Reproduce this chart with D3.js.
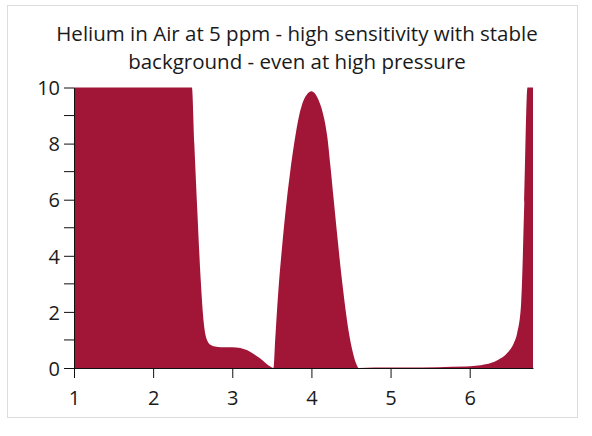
<!DOCTYPE html>
<html>
<head>
<meta charset="utf-8">
<script src="https://cdn.jsdelivr.net/npm/d3@7"></script>
<style>
  body { margin: 0; background: #fff; }
  svg { display: block; font-family: "Open Sans", sans-serif; }
</style>
</head>
<body>
<div id="chart"></div>
<script>
const titleLines = ["Helium in Air at 5 ppm - high sensitivity with stable", "background - even at high pressure"];

// x positions and signal (values above 10 are cut at the top)
const xValues = [1.0, 2.49, 2.52, 2.56, 2.60, 2.64, 2.68, 2.73, 2.80, 2.90, 3.0, 3.1, 3.19, 3.27, 3.35, 3.42, 3.48, 3.52,
  3.542, 3.564, 3.589, 3.619, 3.652, 3.689, 3.732, 3.782, 3.845, 3.895, 3.95, 4.0,
  4.04, 4.08, 4.12, 4.16, 4.20, 4.24, 4.28, 4.32, 4.36, 4.40, 4.44, 4.48, 4.52, 4.56, 4.60,
  4.8, 5.2, 5.6, 5.95, 6.2, 6.35, 6.48, 6.56, 6.60, 6.65, 6.69, 6.73, 6.8];
const yValues = [10, 10, 8.0, 5.5, 3.2, 1.6, 1.0, 0.82, 0.76, 0.74, 0.74, 0.71, 0.63, 0.5, 0.35, 0.18, 0.05, 0.0,
  1.0, 2.0, 3.0, 4.0, 5.0, 6.0, 7.0, 8.0, 9.0, 9.5, 9.78, 9.87,
  9.80, 9.62, 9.33, 8.90, 8.25, 7.2, 6.05, 4.9, 3.8, 2.8, 1.9, 1.15, 0.6, 0.2, 0.0,
  0.02, 0.02, 0.03, 0.05, 0.13, 0.28, 0.55, 0.9, 1.25, 2.3, 5.9, 10, 10];

const xTicks = [1, 2, 3, 4, 5, 6];
const yTicks = [0, 2, 4, 6, 8, 10];
const yMinorTicks = [1, 3, 5, 7, 9];

const width = 592, height = 436;
const margin = {top: 87.5, right: 59, bottom: 68, left: 74};

const svg = d3.select("#chart").append("svg")
  .attr("width", width)
  .attr("height", height);

// light frame round the chart
svg.append("rect")
  .attr("x", 7.5).attr("y", 5.5)
  .attr("width", 570).attr("height", 412)
  .attr("fill", "none")
  .attr("stroke", "#dcdcdc");

svg.append("text")
  .attr("x", 297)
  .attr("y", 41)
  .attr("text-anchor", "middle")
  .style("font-size", "20.5px")
  .style("fill", "#1a1a1a")
  .selectAll("tspan")
  .data(titleLines)
  .enter()
  .append("tspan")
  .attr("x", 297)
  .attr("dy", (d, i) => i ? 28 : 0)
  .text(d => d);

const x = d3.scaleLinear().domain([1, 6.8]).range([margin.left, width - margin.right]);
const y = d3.scaleLinear().domain([0, 10]).range([height - margin.bottom, margin.top]);

const points = xValues.map((v, i) => [v, yValues[i]]);

svg.append("path")
  .datum(points)
  .attr("fill", "#a11537")
  .attr("d", d3.area()
    .x(d => x(d[0]))
    .y0(y(0))
    .y1(d => y(d[1]))
    .curve(d3.curveMonotoneX));

// Axes
const xAxis = svg.append("g")
  .attr("transform", "translate(0," + y(0) + ")")
  .call(d3.axisBottom(x).tickValues(xTicks).tickSize(10).tickSizeOuter(0).tickFormat(d3.format("d")));

const yAxis = svg.append("g")
  .attr("transform", "translate(" + margin.left + ",0)")
  .call(d3.axisLeft(y).tickValues(yTicks).tickSize(10).tickSizeOuter(0).tickFormat(d3.format("d")));

yAxis.selectAll(".minor")
  .data(yMinorTicks)
  .enter()
  .append("line")
  .attr("class", "minor")
  .attr("x1", -10).attr("x2", 0)
  .attr("y1", d => y(d)).attr("y2", d => y(d))
  .attr("stroke", "#111");

[xAxis, yAxis].forEach(g => {
  g.select(".domain").attr("stroke", "#111");
  g.selectAll(".tick line").attr("stroke", "#111");
  g.selectAll("text").style("font-size", "20px").style("font-family", "'Open Sans', sans-serif").attr("fill", "#1a1a1a");
});
xAxis.selectAll("text").attr("dy", "1.2em");
yAxis.selectAll("text").attr("x", -14).attr("dy", "0.36em");
</script>
</body>
</html>
